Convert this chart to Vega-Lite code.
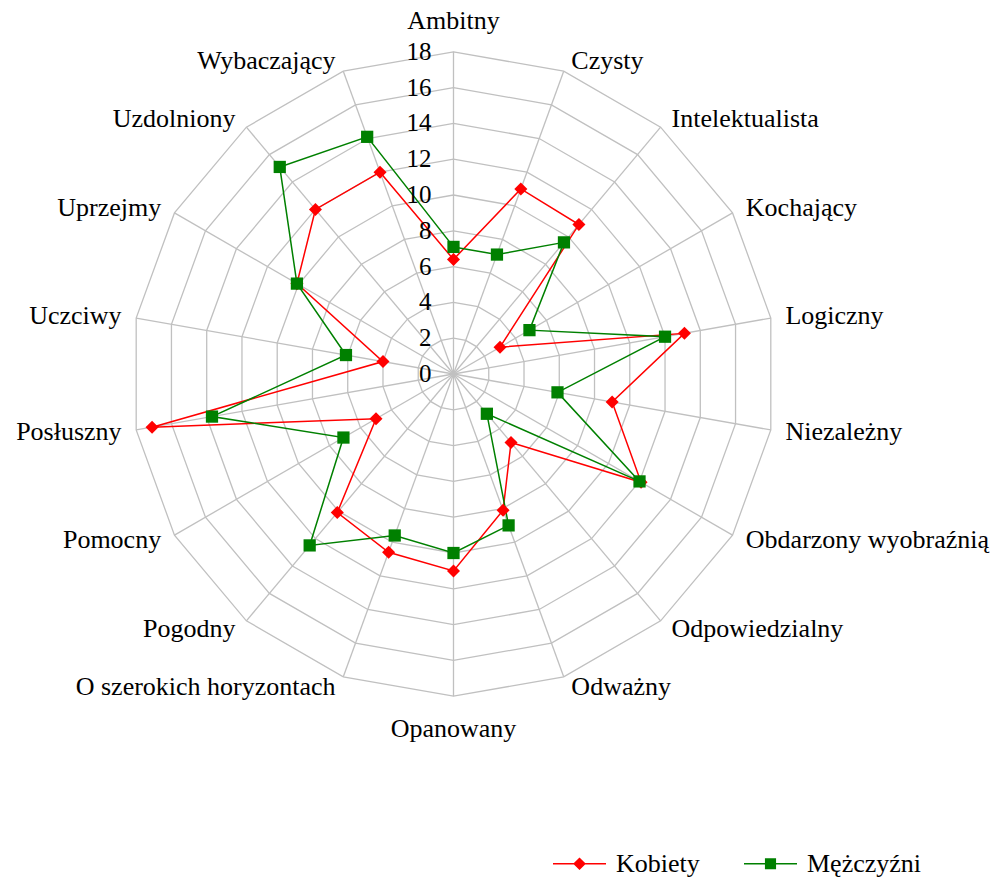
{
  "$schema": "https://vega.github.io/schema/vega-lite/v6.json",
  "width": 992,
  "height": 879,
  "autosize": {"type": "none"},
  "padding": 0,
  "background": "white",
  "config": {"view": {"stroke": null}, "font": "Liberation Serif"},
  "datasets": {
    "traits": [
      {"trait": "Ambitny", "Kobiety": 6.4, "Mężczyźni": 7.1},
      {"trait": "Czysty", "Kobiety": 11.0, "Mężczyźni": 7.1},
      {"trait": "Intelektualista", "Kobiety": 10.9, "Mężczyźni": 9.6},
      {"trait": "Kochający", "Kobiety": 3.0, "Mężczyźni": 4.9},
      {"trait": "Logiczny", "Kobiety": 13.1, "Mężczyźni": 12.0},
      {"trait": "Niezależny", "Kobiety": 9.0, "Mężczyźni": 5.9},
      {"trait": "Obdarzony wyobraźnią", "Kobiety": 12.1, "Mężczyźni": 12.0},
      {"trait": "Odpowiedzialny", "Kobiety": 5.0, "Mężczyźni": 2.9},
      {"trait": "Odważny", "Kobiety": 8.1, "Mężczyźni": 9.0},
      {"trait": "Opanowany", "Kobiety": 11.0, "Mężczyźni": 10.0},
      {"trait": "O szerokich horyzontach", "Kobiety": 10.6, "Mężczyźni": 9.6},
      {"trait": "Pogodny", "Kobiety": 10.1, "Mężczyźni": 12.5},
      {"trait": "Pomocny", "Kobiety": 5.0, "Mężczyźni": 7.1},
      {"trait": "Posłuszny", "Kobiety": 17.1, "Mężczyźni": 13.7},
      {"trait": "Uczciwy", "Kobiety": 4.0, "Mężczyźni": 6.1},
      {"trait": "Uprzejmy", "Kobiety": 10.1, "Mężczyźni": 10.1},
      {"trait": "Uzdolniony", "Kobiety": 12.0, "Mężczyźni": 15.1},
      {"trait": "Wybaczający", "Kobiety": 12.0, "Mężczyźni": 14.1}
    ],
    "ticks": [{"v": 0}, {"v": 2}, {"v": 4}, {"v": 6}, {"v": 8}, {"v": 10}, {"v": 12}, {"v": 14}, {"v": 16}, {"v": 18}]
  },
  "layer": [
    {
      "data": {"name": "traits"},
      "transform": [
        {"window": [{"op": "row_number", "as": "idx"}]},
        {"calculate": "(datum.idx - 1) * PI / 9", "as": "ang"},
        {"calculate": "[2, 4, 6, 8, 10, 12, 14, 16, 18]", "as": "levels"},
        {"flatten": ["levels"], "as": ["lev"]},
        {"calculate": "datum.lev * sin(datum.ang)", "as": "gx"},
        {"calculate": "datum.lev * cos(datum.ang)", "as": "gy"}
      ],
      "mark": {"type": "line", "interpolate": "linear-closed", "stroke": "#c0c0c0", "strokeWidth": 1.3},
      "encoding": {
        "x": {"field": "gx", "type": "quantitative", "scale": {"domain": [-25.335, 30.084], "zero": false, "nice": false}, "axis": null},
        "y": {"field": "gy", "type": "quantitative", "scale": {"domain": [-28.212, 20.894], "zero": false, "nice": false}, "axis": null},
        "detail": {"field": "lev", "type": "nominal"},
        "order": {"field": "idx", "type": "quantitative"}
      }
    },
    {
      "data": {"name": "traits"},
      "transform": [
        {"window": [{"op": "row_number", "as": "idx"}]},
        {"calculate": "(datum.idx - 1) * PI / 9", "as": "ang"},
        {"calculate": "18 * sin(datum.ang)", "as": "sx"},
        {"calculate": "18 * cos(datum.ang)", "as": "sy"}
      ],
      "mark": {"type": "rule", "stroke": "#c0c0c0", "strokeWidth": 1.3},
      "encoding": {
        "x": {"field": "sx", "type": "quantitative", "scale": {"domain": [-25.335, 30.084], "zero": false, "nice": false}, "axis": null},
        "y": {"field": "sy", "type": "quantitative", "scale": {"domain": [-28.212, 20.894], "zero": false, "nice": false}, "axis": null},
        "x2": {"datum": 0},
        "y2": {"datum": 0}
      }
    },
    {
      "data": {"name": "traits"},
      "transform": [
        {"window": [{"op": "row_number", "as": "idx"}]},
        {"calculate": "(datum.idx - 1) * PI / 9", "as": "ang"},
        {"calculate": "datum['Kobiety'] * sin(datum.ang)", "as": "px"},
        {"calculate": "datum['Kobiety'] * cos(datum.ang)", "as": "py"}
      ],
      "mark": {"type": "line", "interpolate": "linear-closed", "strokeWidth": 1.5, "stroke": "#ff0000"},
      "encoding": {
        "x": {"field": "px", "type": "quantitative", "scale": {"domain": [-25.335, 30.084], "zero": false, "nice": false}, "axis": null},
        "y": {"field": "py", "type": "quantitative", "scale": {"domain": [-28.212, 20.894], "zero": false, "nice": false}, "axis": null},
        "order": {"field": "idx", "type": "quantitative"}
      }
    },
    {
      "data": {"name": "traits"},
      "transform": [
        {"window": [{"op": "row_number", "as": "idx"}]},
        {"calculate": "(datum.idx - 1) * PI / 9", "as": "ang"},
        {"calculate": "datum['Mężczyźni'] * sin(datum.ang)", "as": "px"},
        {"calculate": "datum['Mężczyźni'] * cos(datum.ang)", "as": "py"}
      ],
      "mark": {"type": "line", "interpolate": "linear-closed", "strokeWidth": 1.5, "stroke": "#008000"},
      "encoding": {
        "x": {"field": "px", "type": "quantitative", "scale": {"domain": [-25.335, 30.084], "zero": false, "nice": false}, "axis": null},
        "y": {"field": "py", "type": "quantitative", "scale": {"domain": [-28.212, 20.894], "zero": false, "nice": false}, "axis": null},
        "order": {"field": "idx", "type": "quantitative"}
      }
    },
    {
      "data": {"name": "traits"},
      "transform": [
        {"window": [{"op": "row_number", "as": "idx"}]},
        {"calculate": "(datum.idx - 1) * PI / 9", "as": "ang"},
        {"calculate": "datum['Kobiety'] * sin(datum.ang)", "as": "px"},
        {"calculate": "datum['Kobiety'] * cos(datum.ang)", "as": "py"}
      ],
      "mark": {"type": "point", "shape": "diamond", "filled": true, "opacity": 1, "size": 170, "color": "#ff0000"},
      "encoding": {
        "x": {"field": "px", "type": "quantitative", "scale": {"domain": [-25.335, 30.084], "zero": false, "nice": false}, "axis": null},
        "y": {"field": "py", "type": "quantitative", "scale": {"domain": [-28.212, 20.894], "zero": false, "nice": false}, "axis": null}
      }
    },
    {
      "data": {"name": "traits"},
      "transform": [
        {"window": [{"op": "row_number", "as": "idx"}]},
        {"calculate": "(datum.idx - 1) * PI / 9", "as": "ang"},
        {"calculate": "datum['Mężczyźni'] * sin(datum.ang)", "as": "px"},
        {"calculate": "datum['Mężczyźni'] * cos(datum.ang)", "as": "py"}
      ],
      "mark": {"type": "point", "shape": "square", "filled": true, "opacity": 1, "size": 150, "color": "#008000"},
      "encoding": {
        "x": {"field": "px", "type": "quantitative", "scale": {"domain": [-25.335, 30.084], "zero": false, "nice": false}, "axis": null},
        "y": {"field": "py", "type": "quantitative", "scale": {"domain": [-28.212, 20.894], "zero": false, "nice": false}, "axis": null}
      }
    },
    {
      "data": {"name": "traits"},
      "transform": [
        {"fold": ["Kobiety", "Mężczyźni"], "as": ["grupa", "wartosc"]},
        {"filter": "datum.wartosc > 100"}
      ],
      "mark": {"type": "point", "filled": true, "opacity": 1},
      "encoding": {
        "color": {
          "field": "grupa", "type": "nominal",
          "scale": {"domain": ["Kobiety", "Mężczyźni"], "range": ["#ff0000", "#008000"]},
          "legend": {
            "title": null, "orient": "none", "direction": "horizontal",
            "legendX": 553, "legendY": 837,
            "symbolSize": 2809, "symbolStrokeWidth": 0, "symbolOpacity": 1,
            "labelFont": "Liberation Serif", "labelFontSize": 26, "labelColor": "#000000",
            "labelOffset": 10, "columnPadding": 44
          }
        },
        "shape": {
          "field": "grupa", "type": "nominal",
          "scale": {
            "domain": ["Kobiety", "Mężczyźni"],
            "range": [
              "M-1,-0.03L1,-0.03L1,0.03L-1,0.03ZM0,-0.24L0.24,0L0,0.24L-0.24,0Z",
              "M-1,-0.03L1,-0.03L1,0.03L-1,0.03ZM-0.21,-0.21L0.21,-0.21L0.21,0.21L-0.21,0.21Z"
            ]
          },
          "legend": {
            "title": null, "orient": "none", "direction": "horizontal",
            "legendX": 553, "legendY": 837,
            "symbolSize": 2809, "symbolStrokeWidth": 0, "symbolOpacity": 1,
            "labelFont": "Liberation Serif", "labelFontSize": 26, "labelColor": "#000000",
            "labelOffset": 10, "columnPadding": 44
          }
        }
      }
    },
    {
      "data": {"name": "ticks"},
      "mark": {"type": "text", "align": "right", "baseline": "middle", "dx": -22, "font": "Liberation Serif", "fontSize": 25, "color": "#000000"},
      "encoding": {
        "x": {"datum": 0, "type": "quantitative", "scale": {"domain": [-25.335, 30.084], "zero": false, "nice": false}, "axis": null},
        "y": {"field": "v", "type": "quantitative", "scale": {"domain": [-28.212, 20.894], "zero": false, "nice": false}, "axis": null},
        "text": {"field": "v", "type": "quantitative"}
      }
    },
    {
      "data": {"name": "traits"},
      "transform": [
        {"window": [{"op": "row_number", "as": "idx"}]},
        {"filter": "datum.idx >= 2 && datum.idx <= 9"},
        {"calculate": "(datum.idx - 1) * PI / 9", "as": "ang"},
        {"calculate": "18.6 * sin(datum.ang)", "as": "lx"},
        {"calculate": "18.6 * cos(datum.ang)", "as": "ly"}
      ],
      "mark": {"type": "text", "align": "left", "baseline": "middle", "dx": 4, "font": "Liberation Serif", "fontSize": 26, "color": "#000000"},
      "encoding": {
        "x": {"field": "lx", "type": "quantitative", "scale": {"domain": [-25.335, 30.084], "zero": false, "nice": false}, "axis": null},
        "y": {"field": "ly", "type": "quantitative", "scale": {"domain": [-28.212, 20.894], "zero": false, "nice": false}, "axis": null},
        "text": {"field": "trait", "type": "nominal"}
      }
    },
    {
      "data": {"name": "traits"},
      "transform": [
        {"window": [{"op": "row_number", "as": "idx"}]},
        {"filter": "datum.idx >= 11"},
        {"calculate": "(datum.idx - 1) * PI / 9", "as": "ang"},
        {"calculate": "18.6 * sin(datum.ang)", "as": "lx"},
        {"calculate": "18.6 * cos(datum.ang)", "as": "ly"}
      ],
      "mark": {"type": "text", "align": "right", "baseline": "middle", "dx": -4, "font": "Liberation Serif", "fontSize": 26, "color": "#000000"},
      "encoding": {
        "x": {"field": "lx", "type": "quantitative", "scale": {"domain": [-25.335, 30.084], "zero": false, "nice": false}, "axis": null},
        "y": {"field": "ly", "type": "quantitative", "scale": {"domain": [-28.212, 20.894], "zero": false, "nice": false}, "axis": null},
        "text": {"field": "trait", "type": "nominal"}
      }
    },
    {
      "data": {"name": "traits"},
      "transform": [
        {"window": [{"op": "row_number", "as": "idx"}]},
        {"filter": "datum.idx == 1"}
      ],
      "mark": {"type": "text", "align": "center", "baseline": "middle", "dy": -31, "font": "Liberation Serif", "fontSize": 26, "color": "#000000"},
      "encoding": {
        "x": {"datum": 0, "type": "quantitative", "scale": {"domain": [-25.335, 30.084], "zero": false, "nice": false}, "axis": null},
        "y": {"datum": 18, "type": "quantitative", "scale": {"domain": [-28.212, 20.894], "zero": false, "nice": false}, "axis": null},
        "text": {"field": "trait", "type": "nominal"}
      }
    },
    {
      "data": {"name": "traits"},
      "transform": [
        {"window": [{"op": "row_number", "as": "idx"}]},
        {"filter": "datum.idx == 10"}
      ],
      "mark": {"type": "text", "align": "center", "baseline": "middle", "dy": 33, "font": "Liberation Serif", "fontSize": 26, "color": "#000000"},
      "encoding": {
        "x": {"datum": 0, "type": "quantitative", "scale": {"domain": [-25.335, 30.084], "zero": false, "nice": false}, "axis": null},
        "y": {"datum": -18, "type": "quantitative", "scale": {"domain": [-28.212, 20.894], "zero": false, "nice": false}, "axis": null},
        "text": {"field": "trait", "type": "nominal"}
      }
    }
  ]
}
